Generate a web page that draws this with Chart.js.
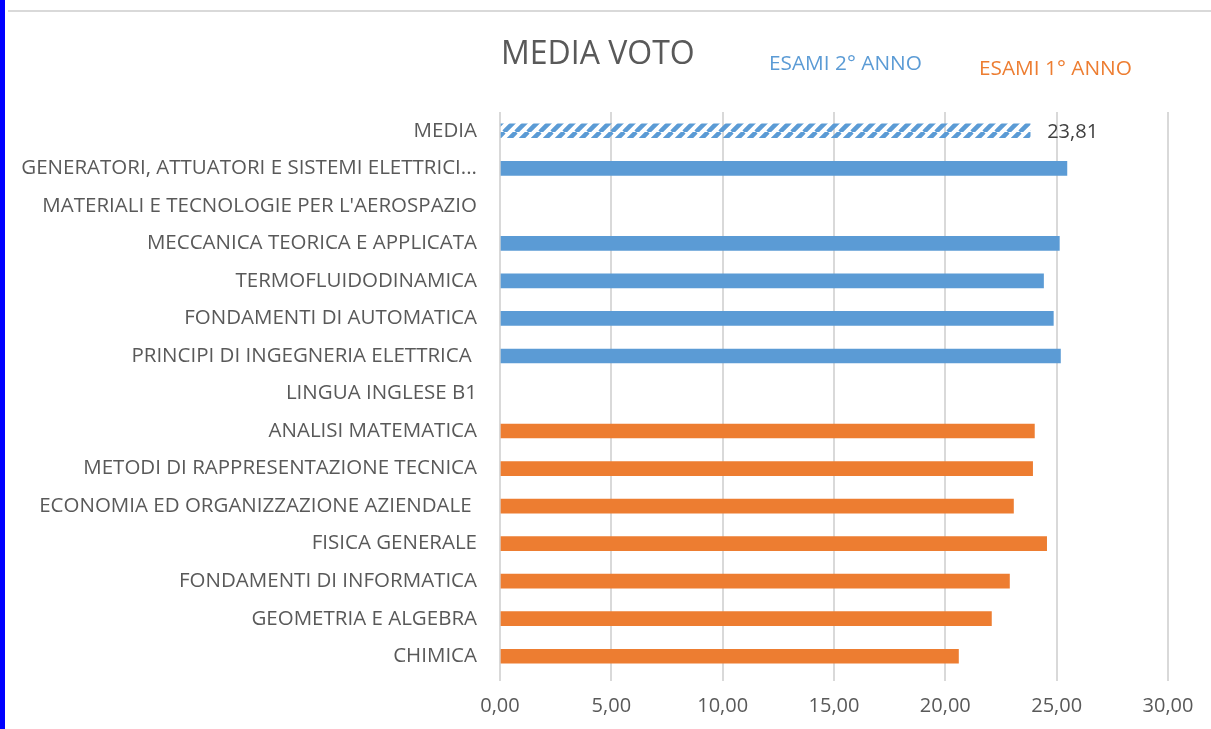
<!DOCTYPE html>
<html>
<head>
<meta charset="utf-8">
<script src="https://cdn.jsdelivr.net/npm/chart.js@4.4.1/dist/chart.umd.min.js"></script>
<style>
  html, body { margin: 0; padding: 0; background: #fff; }
  #wrap { position: relative; width: 1211px; height: 729px; overflow: hidden; }
  #bordo { position: absolute; left: 0; top: 0; width: 5px; height: 729px; background: #0000ff; }
  #linea { position: absolute; left: 8px; right: 0; top: 10px; height: 2px; background: #d9d9d9; }
  canvas { position: absolute; left: 0; top: 0; }
</style>
</head>
<body>
<div id="wrap">
  <canvas id="myChart" width="1211" height="729"></canvas>
  <div id="bordo"></div>
  <div id="linea"></div>
</div>
<script>
// Dati del grafico
const categorie = [
    'MEDIA',
    'GENERATORI, ATTUATORI E SISTEMI ELETTRICI...',
    "MATERIALI E TECNOLOGIE PER L'AEROSPAZIO",
    'MECCANICA TEORICA E APPLICATA',
    'TERMOFLUIDODINAMICA',
    'FONDAMENTI DI AUTOMATICA',
    'PRINCIPI DI INGEGNERIA ELETTRICA ',
    'LINGUA INGLESE B1',
    'ANALISI MATEMATICA',
    'METODI DI RAPPRESENTAZIONE TECNICA',
    'ECONOMIA ED ORGANIZZAZIONE AZIENDALE ',
    'FISICA GENERALE',
    'FONDAMENTI DI INFORMATICA',
    'GEOMETRIA E ALGEBRA',
    'CHIMICA'
];
const media   = [23.81, null, null, null, null, null, null, null, null, null, null, null, null, null, null];
const esami2  = [null, 25.46, null, 25.12, 24.41, 24.85, 25.17, null, null, null, null, null, null, null, null];
const esami1  = [null, null, null, null, null, null, null, null, 24.00, 23.92, 23.06, 24.55, 22.88, 22.07, 20.59];
const tickX   = [0, 5, 10, 15, 20, 25, 30];

const BLU = '#5b9bd5';
const ARANCIO = '#ed7d31';
const GRIGIO = '#595959';
const FONT = 'Open Sans';

// tratteggio diagonale per la barra MEDIA
function tratteggio() {
    const c = document.createElement('canvas');
    c.width = 12; c.height = 12;
    const g = c.getContext('2d');
    g.strokeStyle = BLU;
    g.lineWidth = 4.5;
    g.beginPath();
    for (let k = -1; k <= 1; k++) {
        g.moveTo(k * 12, 12);
        g.lineTo(k * 12 + 12, 0);
    }
    g.stroke();
    return g.createPattern(c, 'repeat');
}

const virgola = v => v.toFixed(2).replace('.', ',');

// titolo, etichette delle serie e valore della media
const testi = {
    id: 'testi',
    afterDraw(chart) {
        const ctx = chart.ctx;
        ctx.save();
        ctx.textBaseline = 'middle';
        ctx.textAlign = 'left';
        ctx.fillStyle = GRIGIO;
        ctx.font = '32px "' + FONT + '"';
        ctx.fillText('MEDIA VOTO', 501, 55);
        ctx.font = '20.8px "' + FONT + '"';
        ctx.fillStyle = BLU;
        ctx.fillText('ESAMI 2° ANNO', 769, 64);
        ctx.fillStyle = ARANCIO;
        ctx.fillText('ESAMI 1° ANNO', 979, 69);

        const meta = chart.getDatasetMeta(0);
        const x = chart.scales.x;
        meta.data.forEach((bar, i) => {
            const v = media[i];
            if (v == null) return;
            ctx.fillStyle = '#404040';
            ctx.font = '20px "' + FONT + '"';
            ctx.fillText(virgola(v), x.getPixelForValue(v) + 17, bar.y + 2);
        });
        ctx.restore();
    }
};

const config = {
    type: 'bar',
    data: {
        labels: categorie,
        datasets: [{
            label: 'MEDIA',
            data: media,
            backgroundColor: tratteggio(),
            barThickness: 14
        }, {
            label: 'ESAMI 2° ANNO',
            data: esami2,
            backgroundColor: BLU,
            barThickness: 14
        }, {
            label: 'ESAMI 1° ANNO',
            data: esami1,
            backgroundColor: ARANCIO,
            barThickness: 14
        }]
    },
    options: {
        indexAxis: 'y',
        responsive: false,
        animation: false,
        layout: { padding: { top: 112, right: 43, left: 0, bottom: 0 } },
        scales: {
            x: {
                stacked: true,
                min: 0,
                max: 30,
                afterBuildTicks(scale) { scale.ticks = tickX.map(v => ({ value: v })); },
                afterFit(scale) { scale.height = 54; },
                grid: { color: '#d9d9d9', lineWidth: 2, tickLength: 6 },
                border: { display: false },
                ticks: {
                    color: GRIGIO,
                    padding: 13,
                    font: { family: FONT, size: 20 },
                    callback: v => virgola(v)
                }
            },
            y: {
                stacked: true,
                afterFit(scale) { scale.width = 500; },
                grid: { display: false },
                border: { display: false },
                ticks: {
                    autoSkip: false,
                    color: GRIGIO,
                    padding: 15,
                    font: { family: FONT, size: 20.5 }
                }
            }
        },
        plugins: {
            legend: { display: false },
            title: { display: false },
            tooltip: { enabled: false }
        }
    },
    plugins: [testi]
};

var myChart = new Chart(document.getElementById('myChart'), config);
</script>
</body>
</html>
